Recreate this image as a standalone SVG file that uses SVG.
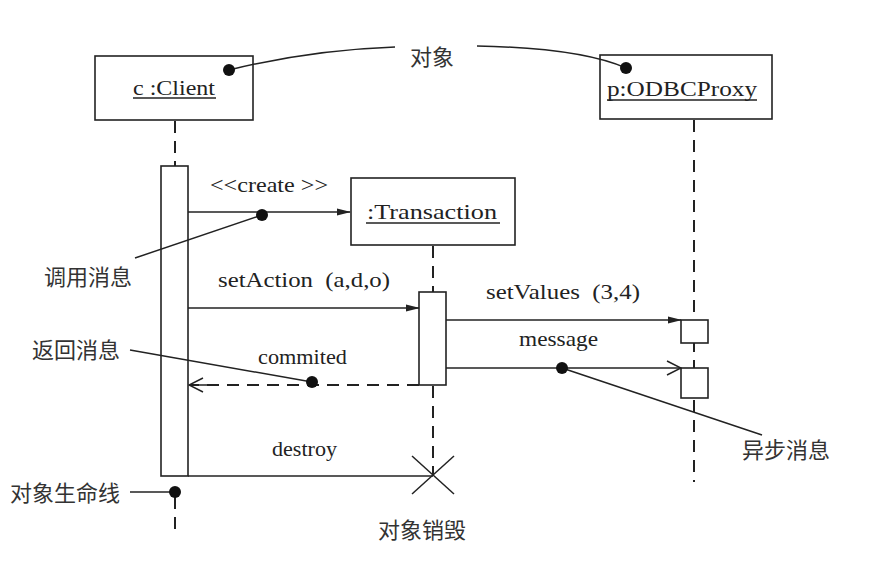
<svg xmlns="http://www.w3.org/2000/svg" width="884" height="580" viewBox="0 0 884 580">
<defs>
<style>
.box{fill:#fff;stroke:#222;stroke-width:1.6}
.ln{fill:none;stroke:#222;stroke-width:1.5}
.dash{fill:none;stroke:#222;stroke-width:2;stroke-dasharray:12,8}
.t{font-family:"Liberation Serif",serif;font-size:21px;fill:#222}
.cn{font-family:"Noto Sans CJK SC",sans-serif;font-size:22px;fill:#333}
.dot{fill:#111}
</style>
<marker id="fill" markerWidth="14" markerHeight="10" refX="13" refY="5" orient="auto" markerUnits="userSpaceOnUse">
<path d="M0,1.5 L14,5 L0,8.5 Z" fill="#222"/>
</marker>
<marker id="open" markerWidth="16" markerHeight="16" refX="15" refY="8" orient="auto" markerUnits="userSpaceOnUse">
<path d="M1,1 L15,8 L1,15" fill="none" stroke="#222" stroke-width="1.5"/>
</marker>
</defs>
<rect width="884" height="580" fill="#fff"/>

<g id="lifelines">
<line class="dash" x1="175" y1="121" x2="175" y2="166"/>
<line class="dash" x1="175" y1="497" x2="175" y2="532"/>
<line class="dash" x1="433" y1="246" x2="433" y2="292"/>
<line class="dash" x1="433" y1="386" x2="433" y2="476"/>
<line class="dash" x1="694" y1="120" x2="694" y2="482"/>
</g>

<g id="client">
<rect class="box" x="95" y="56" width="158" height="64"/>
<text class="t" x="133" y="95" textLength="82" lengthAdjust="spacingAndGlyphs">c :Client</text>
<line class="ln" x1="133" y1="98" x2="216" y2="98" stroke-width="1.2"/>
<rect class="box" x="161" y="166" width="27" height="310"/>
</g>

<g id="odbc">
<rect class="box" x="600" y="55" width="172" height="64"/>
<text class="t" x="607" y="96" textLength="150" lengthAdjust="spacingAndGlyphs">p:ODBCProxy</text>
<line class="ln" x1="607" y1="100" x2="757" y2="100" stroke-width="1.2"/>
<rect class="box" x="681" y="320" width="27" height="23"/>
<rect class="box" x="681" y="368" width="27" height="30"/>
</g>

<g id="transaction">
<rect class="box" x="351" y="178" width="164" height="67"/>
<text class="t" x="367" y="219" textLength="130" lengthAdjust="spacingAndGlyphs">:Transaction</text>
<line class="ln" x1="366" y1="223" x2="500" y2="223" stroke-width="1.2"/>
<rect class="box" x="419" y="292" width="27" height="93"/>
</g>

<g id="connectors">
<line class="ln" x1="188" y1="212" x2="350" y2="212" marker-end="url(#fill)"/>
<line class="ln" x1="188" y1="308" x2="419" y2="308" marker-end="url(#fill)"/>
<line class="ln" x1="446" y1="320" x2="681" y2="320" marker-end="url(#fill)"/>
<line class="ln" x1="446" y1="368" x2="681" y2="368" marker-end="url(#open)"/>
<line class="dash" x1="419" y1="385" x2="190" y2="385" stroke-width="1.8"/>
<line class="ln" x1="210" y1="385" x2="189" y2="385" marker-end="url(#open)"/>
<line class="ln" x1="188" y1="476" x2="433" y2="476"/>
<line class="ln" x1="412" y1="456" x2="454" y2="494" stroke-width="1.8"/>
<line class="ln" x1="454" y1="456" x2="412" y2="494" stroke-width="1.8"/>
</g>

<g id="annotations">
<path class="ln" d="M229,70 Q310,50 395,47"/>
<circle class="dot" cx="229" cy="70" r="6"/>
<path class="ln" d="M477,46 Q580,48 626,68"/>
<circle class="dot" cx="626" cy="68" r="6"/>
<text class="cn" x="410" y="65">对象</text>

<line class="ln" x1="135" y1="258" x2="262" y2="215"/>
<circle class="dot" cx="262" cy="215" r="6"/>
<text class="cn" x="44" y="285">调用消息</text>

<line class="ln" x1="130" y1="350" x2="312" y2="382"/>
<circle class="dot" cx="312" cy="382" r="6"/>
<text class="cn" x="32" y="358">返回消息</text>

<line class="ln" x1="562" y1="368" x2="762" y2="435"/>
<circle class="dot" cx="562" cy="368" r="6"/>
<text class="cn" x="742" y="458">异步消息</text>

<line class="ln" x1="130" y1="492" x2="175" y2="492"/>
<circle class="dot" cx="175" cy="492" r="6"/>
<text class="cn" x="10" y="501">对象生命线</text>

<text class="cn" x="378" y="538">对象销毁</text>
</g>

<g id="labels">
<text class="t" x="210" y="192" textLength="118" lengthAdjust="spacingAndGlyphs">&lt;&lt;create &gt;&gt;</text>
<text class="t" x="218" y="287" textLength="172" lengthAdjust="spacingAndGlyphs" xml:space="preserve">setAction  (a,d,o)</text>
<text class="t" x="486" y="299" textLength="154" lengthAdjust="spacingAndGlyphs" xml:space="preserve">setValues  (3,4)</text>
<text class="t" x="519" y="346" textLength="79" lengthAdjust="spacingAndGlyphs">message</text>
<text class="t" x="258" y="364" textLength="89" lengthAdjust="spacingAndGlyphs">commited</text>
<text class="t" x="272" y="456" textLength="65" lengthAdjust="spacingAndGlyphs">destroy</text>
</g>
</svg>
